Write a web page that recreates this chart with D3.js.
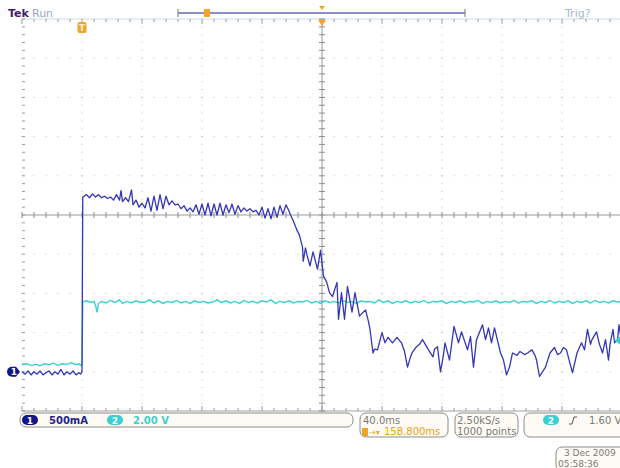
<!DOCTYPE html>
<html>
<head>
<meta charset="utf-8">
<script src="https://cdn.jsdelivr.net/npm/d3@7"></script>
<style>
  body { margin: 0; background: #fff; }
  svg { display: block; font-family: "DejaVu Sans", sans-serif; }
</style>
</head>
<body>
<script>
// ch1: current probe, [time ms from trigger, mA]
const ch1Points = [
  [-40, 0], [-38, -30], [-36, 10], [-34, -40], [-32, 0], [-30, -30], [-28, 10], [-26, -40], [-24, -10], [-22, 10],
  [-20, -40], [-18, 0], [-16, -30], [-14, 30], [-12, -40], [-10, 0], [-8, -30], [-6, 10], [-4, -40], [-2, -10], [-1, -30], [0, 0],
  [0.5, 2230], [3, 2260], [5, 2220], [7, 2270], [9, 2230], [11, 2260], [13, 2220], [15, 2240], [17, 2210], [19, 2230],
  [21, 2190], [23, 2260], [25, 2190], [26, 2310], [27, 2170], [29, 2220], [31, 2170], [33, 2320], [34, 2130], [36, 2190],
  [38, 2100], [40, 2150], [42, 2090], [44, 2220], [46, 2050], [48, 2240], [50, 2060], [52, 2260], [54, 2080], [56, 2240],
  [58, 2130], [60, 2180], [62, 2130], [64, 2140], [66, 2080], [68, 2120], [70, 2050], [72, 2090], [74, 2040], [76, 2130],
  [78, 2010], [80, 2140], [82, 2000], [84, 2150], [86, 1990], [88, 2140], [90, 2000], [92, 2150], [94, 2000], [96, 2130],
  [98, 2030], [100, 2140], [102, 2010], [104, 2120], [106, 2040], [108, 2090], [110, 2050], [112, 2080], [114, 2040], [116, 2060],
  [118, 2000], [120, 2100], [122, 1960], [124, 2080], [126, 1950], [128, 2100], [130, 1970], [132, 2120], [134, 2010], [136, 2130],
  [138, 2050], [139, 2000], [141, 1920], [143, 1820], [145, 1740], [147, 1590], [147.5, 1410], [149, 1580], [150, 1490], [152, 1350],
  [154, 1530], [157, 1310], [159, 1550], [161, 1220], [163, 1150], [165, 1010], [167, 960], [170, 1140], [171, 670], [173, 1010],
  [175, 670], [177, 1090], [180, 760], [182, 1010], [185, 710], [189, 790], [191, 640], [192, 540], [194, 240], [195, 290],
  [197, 280], [200, 500], [202, 370], [204, 440], [207, 370], [210, 440], [213, 370], [215, 260], [217, 60], [219, 190],
  [220, 240], [223, 320], [225, 350], [227, 410], [231, 280], [234, 190], [235, 290], [237, 320], [239, 0], [241, 220],
  [242, 370], [245, 150], [248, 580], [251, 370], [253, 510], [257, 280], [259, 450], [261, 60], [263, 410], [267, 600],
  [269, 410], [271, 560], [273, 370], [275, 560], [279, 240], [281, 150], [283, -40], [285, 60], [287, 240], [290, 210],
  [292, 260], [295, 220], [297, 240], [300, 280], [302, 210], [303, 150], [305, -60], [309, 60], [312, 240], [315, 310],
  [317, 220], [319, 240], [321, 310], [323, 280], [325, 130], [327, -10], [330, 240], [333, 370], [335, 280], [337, 540],
  [339, 350], [340, 410], [343, 510], [345, 350], [347, 240], [349, 410], [351, 150], [352, 350], [354, 540], [355, 370],
  [357, 410], [358, 600], [359, 470]
];

// ch2: voltage, [time ms from trigger, V]
const ch2Points = [
  [-40, 0.36], [-37, 0.41], [-34, 0.33], [-31, 0.38], [-28, 0.31], [-25, 0.41], [-22, 0.36], [-19, 0.44], [-16, 0.33], [-13, 0.41],
  [-10, 0.38], [-7, 0.46], [-4, 0.36], [-2, 0.41], [-1, 0.33], [0, 0.36],
  [0.5, 3.56], [3, 3.62], [6, 3.54], [8, 3.59], [9, 3.4], [10, 3.03], [11, 3.49], [13, 3.59], [16, 3.51], [19, 3.64],
  [22, 3.54], [25, 3.67], [27, 3.49], [30, 3.59], [33, 3.51], [36, 3.62], [39, 3.54], [42, 3.56], [45, 3.67], [48, 3.51],
  [51, 3.62], [54, 3.49], [57, 3.59], [60, 3.54], [63, 3.64], [66, 3.51], [69, 3.59], [72, 3.49], [75, 3.62], [78, 3.54],
  [81, 3.59], [84, 3.51], [87, 3.56], [90, 3.67], [93, 3.54], [96, 3.62], [99, 3.51], [102, 3.59], [105, 3.49], [108, 3.64],
  [111, 3.54], [114, 3.59], [117, 3.51], [120, 3.62], [123, 3.56], [126, 3.67], [129, 3.49], [132, 3.59], [135, 3.54], [138, 3.62],
  [141, 3.51], [144, 3.59], [147, 3.56], [150, 3.64], [153, 3.51], [156, 3.59], [159, 3.49], [162, 3.62], [165, 3.54], [168, 3.59],
  [171, 3.51], [174, 3.64], [177, 3.54], [180, 3.59], [183, 3.49], [186, 3.62], [189, 3.56], [192, 3.59], [195, 3.51], [198, 3.67],
  [201, 3.54], [204, 3.62], [207, 3.49], [210, 3.59], [213, 3.54], [216, 3.62], [219, 3.51], [222, 3.59], [225, 3.54], [228, 3.64],
  [231, 3.51], [234, 3.59], [237, 3.56], [240, 3.62], [243, 3.49], [246, 3.59], [249, 3.54], [252, 3.62], [255, 3.51], [258, 3.59],
  [261, 3.56], [264, 3.64], [267, 3.49], [270, 3.59], [273, 3.54], [276, 3.62], [279, 3.51], [282, 3.59], [285, 3.54], [288, 3.64],
  [291, 3.51], [294, 3.59], [297, 3.56], [300, 3.62], [303, 3.49], [306, 3.59], [309, 3.54], [312, 3.64], [315, 3.51], [318, 3.59],
  [321, 3.54], [324, 3.62], [327, 3.49], [330, 3.59], [333, 3.54], [336, 3.62], [339, 3.51], [342, 3.64], [345, 3.54], [348, 3.59],
  [351, 3.51], [354, 3.62], [357, 3.56], [360, 3.59]
];

// readouts
const ch1Scale = "500mA", ch2Scale = "2.00 V";
const timeScale = "40.0ms", trigDelay = "158.800ms";
const acqInfo = ["2.50kS/s", "1000 points"];
const trigLevel = "1.60 V";
const dateLines = ["3 Dec  2009", "05:58:36"];

const W = 620, H = 468;
const svg = d3.select("body").append("svg").attr("width", W).attr("height", H);

// scales: 10 x 10 divisions, 40 ms/div, ground of both channels at 0 div
const x = d3.scaleLinear().domain([-40, 360]).range([22, 622]);
const yDiv = d3.scaleLinear().domain([-1, 9]).range([411, 19]);
const yI = d3.scaleLinear().domain([-500, 4500]).range([411, 19]);
const yV = d3.scaleLinear().domain([-2, 18]).range([411, 19]);

const majorT = d3.range(-40, 361, 40), minorT = d3.range(-40, 361, 8);
const majorD = d3.range(-1, 9.001, 1), minorD = d3.range(-1, 9.001, 0.2);

// graticule dots
let grid = svg.append("g").attr("fill", "#bdbdbd");
majorT.filter(t => t !== 160 && t > -40).forEach(t => {
  minorD.forEach(d => grid.append("rect").attr("x", x(t) - 0.5).attr("y", yDiv(d) - 0.5).attr("width", 1).attr("height", 1));
});
majorD.filter(d => d !== 4 && d > -1 && d < 9).forEach(d => {
  minorT.forEach(t => grid.append("rect").attr("x", x(t) - 0.5).attr("y", yDiv(d) - 0.5).attr("width", 1).attr("height", 1));
});

// rulers
let ruler = svg.append("g").attr("stroke", "#9a9a9a").attr("stroke-width", 1);
ruler.append("line").attr("x1", 22).attr("x2", 622).attr("y1", yDiv(9)).attr("y2", yDiv(9)).attr("stroke", "#cfdbe8");
ruler.append("line").attr("x1", 22).attr("x2", 622).attr("y1", yDiv(-1)).attr("y2", yDiv(-1)).attr("stroke", "#a0a0a0");
minorT.forEach(t => {
  let big = majorT.includes(t) ? 2 : 0;
  ruler.append("line").attr("x1", x(t)).attr("x2", x(t)).attr("y1", yDiv(9)).attr("y2", yDiv(9) + 3 + big);
  ruler.append("line").attr("x1", x(t)).attr("x2", x(t)).attr("y1", yDiv(-1)).attr("y2", yDiv(-1) - 3 - big);
  ruler.append("line").attr("x1", x(t)).attr("x2", x(t)).attr("y1", yDiv(4) - 3).attr("y2", yDiv(4) + 3).attr("stroke", "#8a8a8a");
});
minorD.forEach(d => {
  ruler.append("line").attr("x1", x(-40)).attr("x2", x(-40) + 3).attr("y1", yDiv(d)).attr("y2", yDiv(d));
  ruler.append("line").attr("x1", x(160) - 3).attr("x2", x(160) + 3).attr("y1", yDiv(d)).attr("y2", yDiv(d)).attr("stroke", "#8a8a8a");
});
ruler.append("line").attr("x1", 22).attr("x2", 622).attr("y1", yDiv(4)).attr("y2", yDiv(4)).attr("stroke", "#9a9a9a");
ruler.append("line").attr("x1", x(160)).attr("x2", x(160)).attr("y1", yDiv(9)).attr("y2", yDiv(-1)).attr("stroke", "#9a9a9a");

// traces
svg.append("path")
  .attr("fill", "none").attr("stroke", "#3ccfd2").attr("stroke-width", 1.4)
  .attr("d", d3.line().x(d => x(d[0])).y(d => yV(d[1]))(ch2Points));
svg.append("path")
  .attr("fill", "none").attr("stroke", "#3535b8").attr("stroke-width", 1.3).attr("stroke-linejoin", "round")
  .attr("d", d3.line().x(d => x(d[0])).y(d => yI(d[1]))(ch1Points));

// ground marker ch1
svg.append("path").attr("fill", "#16168c")
  .attr("d", `M12,${yDiv(0) - 5} H16 L20,${yDiv(0)} L16,${yDiv(0) + 5} H12 A5,5 0 0 1 12,${yDiv(0) - 5} Z`);
svg.append("text").attr("x", 14).attr("y", yDiv(0) + 3.5).attr("text-anchor", "middle")
  .attr("fill", "#fff").attr("font-size", 9).attr("font-weight", "bold").text("1");

// trigger level marker on right edge (ch2, 1.60 V)
svg.append("path").attr("fill", "#3ccfd2")
  .attr("d", `M614,${yV(1.6)} L620,${yV(1.6) - 4} L620,${yV(1.6) + 4} Z`);

// top: Tek Run, record bar, trigger markers
svg.append("text").attr("x", 8).attr("y", 17).attr("font-size", 11).attr("font-weight", "bold")
  .attr("fill", "#4a1a6e").text("Tek");
svg.append("text").attr("x", 32).attr("y", 17).attr("font-size", 11).attr("fill", "#98a6c6").text("Run");
svg.append("text").attr("x", 565).attr("y", 17).attr("font-size", 11).attr("fill", "#a9b7cf").text("Trig?");

let bar = svg.append("g");
bar.append("line").attr("x1", 178).attr("x2", 465).attr("y1", 13).attr("y2", 13).attr("stroke", "#8e8ec6").attr("stroke-width", 2);
bar.append("line").attr("x1", 178).attr("x2", 178).attr("y1", 9).attr("y2", 17).attr("stroke", "#777").attr("stroke-width", 1);
bar.append("line").attr("x1", 465).attr("x2", 465).attr("y1", 9).attr("y2", 17).attr("stroke", "#777").attr("stroke-width", 1);
bar.append("rect").attr("x", 204).attr("y", 9).attr("width", 6).attr("height", 8).attr("rx", 1).attr("fill", "#f2a426");
bar.append("path").attr("fill", "#f2a426").attr("d", `M319,6 L325,6 L322,10 Z`);

// expansion point + trigger position
svg.append("path").attr("fill", "#f2a426").attr("d", `M${x(160) - 4},${yDiv(9) + 1} L${x(160) + 4},${yDiv(9) + 1} L${x(160)},${yDiv(9) + 7} Z`);
svg.append("rect").attr("x", x(0) - 4.5).attr("y", 22).attr("width", 9).attr("height", 11).attr("rx", 2).attr("fill", "#f2a426");
svg.append("text").attr("x", x(0)).attr("y", 31).attr("text-anchor", "middle").attr("font-size", 9)
  .attr("font-weight", "bold").attr("fill", "#fff3d6").text("T");

// bottom readouts
let foot = svg.append("g").attr("font-size", 10);
let box = (x0, y0, w, h) => foot.append("rect").attr("x", x0).attr("y", y0).attr("width", w).attr("height", h)
  .attr("rx", 6).attr("fill", "#fdfbf3").attr("stroke", "#8c8c8c").attr("stroke-width", 1);
let pill = (cx, cy, fill, label) => {
  foot.append("rect").attr("x", cx - 8).attr("y", cy - 5).attr("width", 16).attr("height", 10).attr("rx", 5).attr("fill", fill);
  foot.append("text").attr("x", cx).attr("y", cy + 3.5).attr("text-anchor", "middle").attr("font-size", 9)
    .attr("font-weight", "bold").attr("fill", "#fff").text(label);
};

box(20, 413, 333, 14);
pill(30, 420, "#16168c", "1");
foot.append("text").attr("x", 49).attr("y", 424).attr("font-weight", "bold").attr("fill", "#24248e").text(ch1Scale);
pill(115, 420, "#3ccfd2", "2");
foot.append("text").attr("x", 133).attr("y", 424).attr("font-weight", "bold").attr("fill", "#3ccfd2").text(ch2Scale);

box(360, 413, 88, 24);
foot.append("text").attr("x", 363).attr("y", 424).attr("fill", "#7a7a7a").text(timeScale);
foot.append("rect").attr("x", 362).attr("y", 428).attr("width", 6).attr("height", 8).attr("fill", "#f2a426");
foot.append("text").attr("x", 369).attr("y", 435).attr("font-size", 8).attr("fill", "#f2a426").text("→▾");
foot.append("text").attr("x", 384).attr("y", 435).attr("fill", "#e9a020").text(trigDelay);

box(455, 413, 63, 24);
foot.append("text").attr("x", 457).attr("y", 424).attr("fill", "#7a7a7a").text(acqInfo[0]);
foot.append("text").attr("x", 457).attr("y", 435).attr("fill", "#7a7a7a").text(acqInfo[1]);

box(524, 413, 104, 24);
pill(551, 420, "#3ccfd2", "2");
foot.append("path").attr("fill", "none").attr("stroke", "#555").attr("stroke-width", 1)
  .attr("d", "M569,424 H572 L574,417 H577");
foot.append("text").attr("x", 589).attr("y", 424).attr("fill", "#7a7a7a").text(trigLevel);

box(556, 447, 72, 24);
foot.append("text").attr("x", 564).attr("y", 456).attr("font-size", 9).attr("fill", "#7a7a7a").text(dateLines[0]);
foot.append("text").attr("x", 558).attr("y", 466.5).attr("font-size", 9).attr("fill", "#7a7a7a").text(dateLines[1]);
</script>
</body>
</html>
